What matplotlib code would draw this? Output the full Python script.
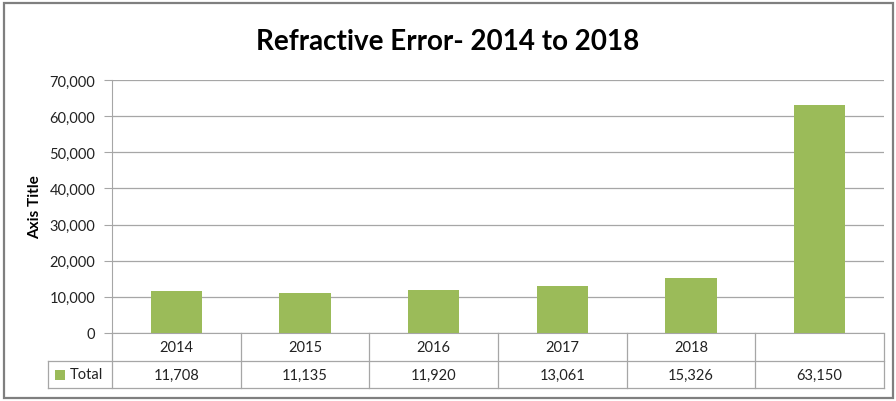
import matplotlib.pyplot as plt
from matplotlib.patches import Rectangle
from matplotlib.lines import Line2D

years = ['2014', '2015', '2016', '2017', '2018', '']
totals = [11708, 11135, 11920, 13061, 15326, 63150]
series_name = 'Total'
title = 'Refractive Error- 2014 to 2018'
green = '#9BBB59'
grid_col = '#A6A6A6'

plt.rcParams['font.family'] = ['Lato', 'DejaVu Sans']

W, H = 896, 402
fig = plt.figure(figsize=(W / 100, H / 100), dpi=100)

def fx(px):
    return px / W

def fy(py):
    return 1 - py / H

# outer chart frame
fig.patches.append(Rectangle((fx(4), fy(399)), fx(889), 395 / H, transform=fig.transFigure,
                             fill=False, edgecolor='#7F7F7F', linewidth=1.6))

left, right, top, bottom = 112, 884, 81, 334
ax = fig.add_axes([fx(left), fy(bottom), fx(right - left), (bottom - top) / H])

x = range(len(totals))
ax.bar(x, totals, width=0.4, color=green, zorder=3)
ax.set_xlim(-0.5, len(totals) - 0.5)
ax.set_ylim(0, 70000)
ax.set_yticks(range(0, 70001, 10000))
ax.set_yticklabels([f'{v:,}' for v in range(0, 70001, 10000)], fontsize=10.5, color='#222222')
ax.yaxis.grid(True, color=grid_col, linewidth=0.9, zorder=0)
ax.set_xticks([])
for s in ['top', 'right']:
    ax.spines[s].set_visible(False)
ax.spines['left'].set_color(grid_col)
ax.spines['bottom'].set_color(grid_col)
ax.tick_params(axis='y', length=6, color=grid_col, pad=6)
ax.set_ylabel('Axis Title', fontsize=11, fontweight='bold', labelpad=5)

fig.text(0.5, fy(42), title, ha='center', va='center', fontsize=20, fontweight='bold')

# data table under the axis
row1, row2, row3 = 334, 362, 389
tab_left = 48
col_w = (right - left) / len(years)
lines = [
    ((tab_left, right), (row2, row2)),
    ((tab_left, right), (row3, row3)),
    ((tab_left, tab_left), (row2, row3)),
]
for i in range(len(years) + 1):
    xc = left + i * col_w
    lines.append(((xc, xc), (row1, row3)))
for xs, ys in lines:
    fig.add_artist(Line2D([fx(xs[0]), fx(xs[1])], [fy(ys[0]), fy(ys[1])],
                          transform=fig.transFigure, color=grid_col, linewidth=0.9))

for i, (yr, v) in enumerate(zip(years, totals)):
    cx = left + (i + 0.5) * col_w
    fig.text(fx(cx), fy((row1 + row2) / 2), yr, ha='center', va='center', fontsize=10.5, color='#222222')
    fig.text(fx(cx), fy((row2 + row3) / 2), f'{v:,}', ha='center', va='center', fontsize=10.5, color='#222222')

fig.patches.append(Rectangle((fx(55), fy(381)), fx(10), 10 / H, transform=fig.transFigure,
                             facecolor=green, edgecolor='none'))
fig.text(fx(70), fy((row2 + row3) / 2), series_name, ha='left', va='center', fontsize=10.5, color='#222222')

fig.savefig('out.png', dpi=100)
